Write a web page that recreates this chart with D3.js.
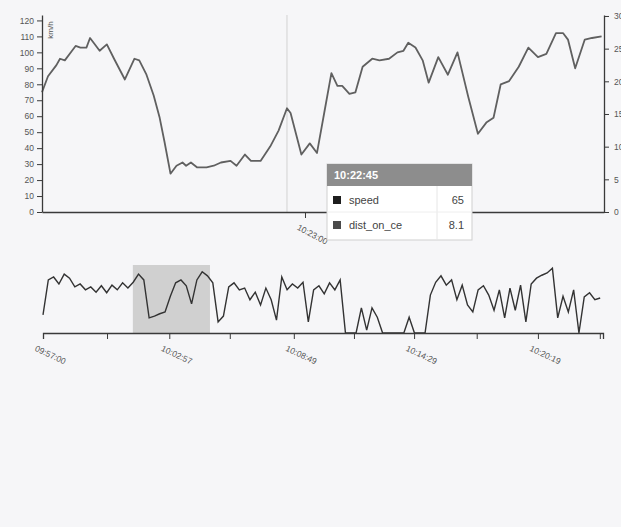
<!DOCTYPE html>
<html><head><meta charset="utf-8">
<script src="https://cdn.jsdelivr.net/npm/d3@7"></script>
<style>
html,body{margin:0;padding:0;background:#f6f6f8;}
svg{display:block;font-family:"Liberation Sans",Arial,sans-serif;}
</style></head><body>
<svg id="chart" width="621" height="527"></svg>
<script>
// ---------- data ----------
const focusTimes = ["10:19:21","10:19:26","10:19:33","10:19:36","10:19:40","10:19:46","10:19:49","10:19:53","10:19:58","10:20:01",
"10:20:04","10:20:09","10:20:15","10:20:21","10:20:30","10:20:38","10:20:42","10:20:48","10:20:54","10:20:59",
"10:21:03","10:21:08","10:21:13","10:21:18","10:21:21","10:21:25","10:21:30","10:21:38","10:21:44","10:21:50",
"10:21:58","10:22:03","10:22:10","10:22:15","10:22:23","10:22:31","10:22:38","10:22:45","10:22:48","10:22:57",
"10:23:04","10:23:10","10:23:16","10:23:22","10:23:27","10:23:31","10:23:37","10:23:42","10:23:48","10:23:56",
"10:24:02","10:24:10","10:24:17","10:24:22","10:24:26","10:24:32","10:24:38","10:24:43","10:24:51","10:24:59",
"10:25:07","10:25:16","10:25:24","10:25:31","10:25:37","10:25:43","10:25:50","10:25:58","10:26:06","10:26:14",
"10:26:21","10:26:29","10:26:35","10:26:39","10:26:45","10:26:53","10:26:59","10:27:07"];
const focusSpeed = [75,85,92,96,95,101,104,103,103,109,
106,101,105,96,83,96,95,86,73,59,
44,24,29,31,29,31,28,28,29,31,
32,29,36,32,32,41,51,65,62,36,
43,37,62,87,79,79,74,75,91,96,
95,96,100,101,106,103,95,81,97,86,
100,72,49,56,59,80,82,91,103,97,
99,112,112,108,90,108,109,110];
const speedTicks = [0,10,20,30,40,50,60,70,80,90,100,110,120];
const distTicks = [0,5,10,15,20,25,30];
const focusDomain = ["10:19:21","10:27:09"];
const focusTickTimes = ["10:23:00"];
const hoverTime = "10:22:45";
const hoverNames = ["speed","dist_on_ce"];
const hoverValues = ["65","8.1"];
const hoverColors = ["#1e1e1e","#4a4a4a"];

const contextStart = "09:57:00";
const contextStepSeconds = 15;
const contextSpeed = [31,91,96,84,101,94,79,84,74,79,
70,81,69,82,74,86,77,87,101,91,
26,29,33,36,63,86,91,81,50,91,
105,98,86,19,29,79,86,74,77,57,
70,48,77,57,22,96,74,84,77,87,
19,74,81,67,86,74,91,0,0,0,
43,5,43,27,0,0,0,0,0,27,
0,0,0,65,87,98,82,91,57,82,
48,36,74,81,65,39,74,26,77,39,
82,19,84,94,99,103,111,26,63,36,
74,0,62,69,57,60];
const contextDomain = ["09:57:00","10:23:23"];
const contextTickTimes = ["09:57:00","10:00:01","10:02:57","10:05:48","10:08:49","10:11:39","10:14:29","10:17:26","10:20:19","10:23:14"];
const contextTickLabels = ["09:57:00","","10:02:57","","10:08:49","","10:14:29","","10:20:19",""];
const brushExtent = ["10:01:14","10:04:52"];

// ---------- drawing ----------
const parse = d3.timeParse("%H:%M:%S");
const svg = d3.select("#chart");

const xF = d3.scaleTime().domain(focusDomain.map(parse)).range([42,604]);
const yL = d3.scaleLinear().domain([0,123.4]).range([212,15]);
const yR = d3.scaleLinear().domain([0,30.15]).range([212,15]);

const focusData = focusTimes.map((t,i)=>({t:parse(t), v:focusSpeed[i]}));

// hover line
svg.append("line").attr("x1",xF(parse(hoverTime))).attr("x2",xF(parse(hoverTime)))
  .attr("y1",15).attr("y2",212).attr("stroke","#d2d2d2").attr("stroke-width",1);

// focus line
svg.append("path").datum(focusData)
  .attr("fill","none").attr("stroke","#606060").attr("stroke-width",1.8)
  .attr("stroke-linejoin","round")
  .attr("d", d3.line().x(d=>xF(d.t)).y(d=>yL(d.v)));

function styleAxis(g){
  g.attr("font-family",null);
  g.selectAll(".domain").attr("stroke","#3a3a3a").attr("stroke-width",1.3);
  g.selectAll(".tick line").attr("stroke","#3a3a3a");
  g.selectAll(".tick text").attr("fill","#555").attr("font-size",8.5);
}

// left axis
const gl = svg.append("g").attr("transform","translate(42,0)")
  .call(d3.axisLeft(yL).tickValues(speedTicks).tickSize(5).tickSizeOuter(0).tickPadding(3));
styleAxis(gl);
svg.append("text").attr("transform","translate(53,30) rotate(-90)")
  .attr("text-anchor","middle").attr("font-size",8).attr("fill","#555").text("km/h");

// right axis
const gr = svg.append("g").attr("transform","translate(604,0)")
  .call(d3.axisRight(yR).tickValues(distTicks).tickSize(5).tickSizeOuter(0).tickPadding(5));
styleAxis(gr);

// focus x axis
const gb = svg.append("g").attr("transform","translate(0,212)")
  .call(d3.axisBottom(xF).tickValues(focusTickTimes.map(parse)).tickFormat(d3.timeFormat("%H:%M:%S")).tickSize(6).tickSizeOuter(0));
styleAxis(gb);
gb.selectAll(".tick text").attr("text-anchor","start").attr("transform","translate(-2,4) rotate(28)");

// ---------- context ----------
const xC = d3.scaleTime().domain(contextDomain.map(parse)).range([43,603]);
const yC = d3.scaleLinear().domain([0,120]).range([333,263]);
const t0 = parse(contextStart);
const ctxData = contextSpeed.map((v,i)=>({t:new Date(t0.getTime()+i*contextStepSeconds*1000), v}));

svg.append("rect")
  .attr("x",xC(parse(brushExtent[0]))).attr("width",xC(parse(brushExtent[1]))-xC(parse(brushExtent[0])))
  .attr("y",265).attr("height",333-265).attr("fill","#c9c9c9").attr("opacity",0.85);

svg.append("path").datum(ctxData)
  .attr("fill","none").attr("stroke","#333").attr("stroke-width",1.4)
  .attr("d", d3.line().x(d=>xC(d.t)).y(d=>yC(d.v)));

const gc = svg.append("g").attr("transform","translate(0,333)")
  .call(d3.axisBottom(xC).tickValues(contextTickTimes.map(parse))
    .tickFormat((d,i)=>contextTickLabels[i]).tickSize(6));
styleAxis(gc);
gc.selectAll(".tick text").attr("text-anchor","start").attr("transform","translate(-3,4) rotate(25)");

// ---------- tooltip ----------
const tip = svg.append("g").attr("transform","translate(327,164)");
tip.append("rect").attr("width",145).attr("height",76).attr("fill","#fff").attr("stroke","#cfcfcf");
tip.append("rect").attr("width",145).attr("height",22).attr("fill","#8d8d8d");
tip.append("text").attr("x",7).attr("y",15).attr("fill","#fff").attr("font-size",11).attr("font-weight","bold").text(hoverTime);
tip.append("line").attr("x1",110).attr("x2",110).attr("y1",22).attr("y2",76).attr("stroke","#e6e6e6");
tip.append("line").attr("x1",0).attr("x2",145).attr("y1",48).attr("y2",48).attr("stroke","#eeeeee");
hoverNames.forEach((n,i)=>{
  const cy = 36 + i*25;
  tip.append("rect").attr("x",6).attr("y",cy-4).attr("width",8).attr("height",8).attr("fill",hoverColors[i]);
  tip.append("text").attr("x",22).attr("y",cy+4).attr("font-size",11).attr("fill","#444").text(n);
  tip.append("text").attr("x",137).attr("y",cy+4).attr("text-anchor","end").attr("font-size",11).attr("fill","#444").text(hoverValues[i]);
});
</script>
</body></html>
